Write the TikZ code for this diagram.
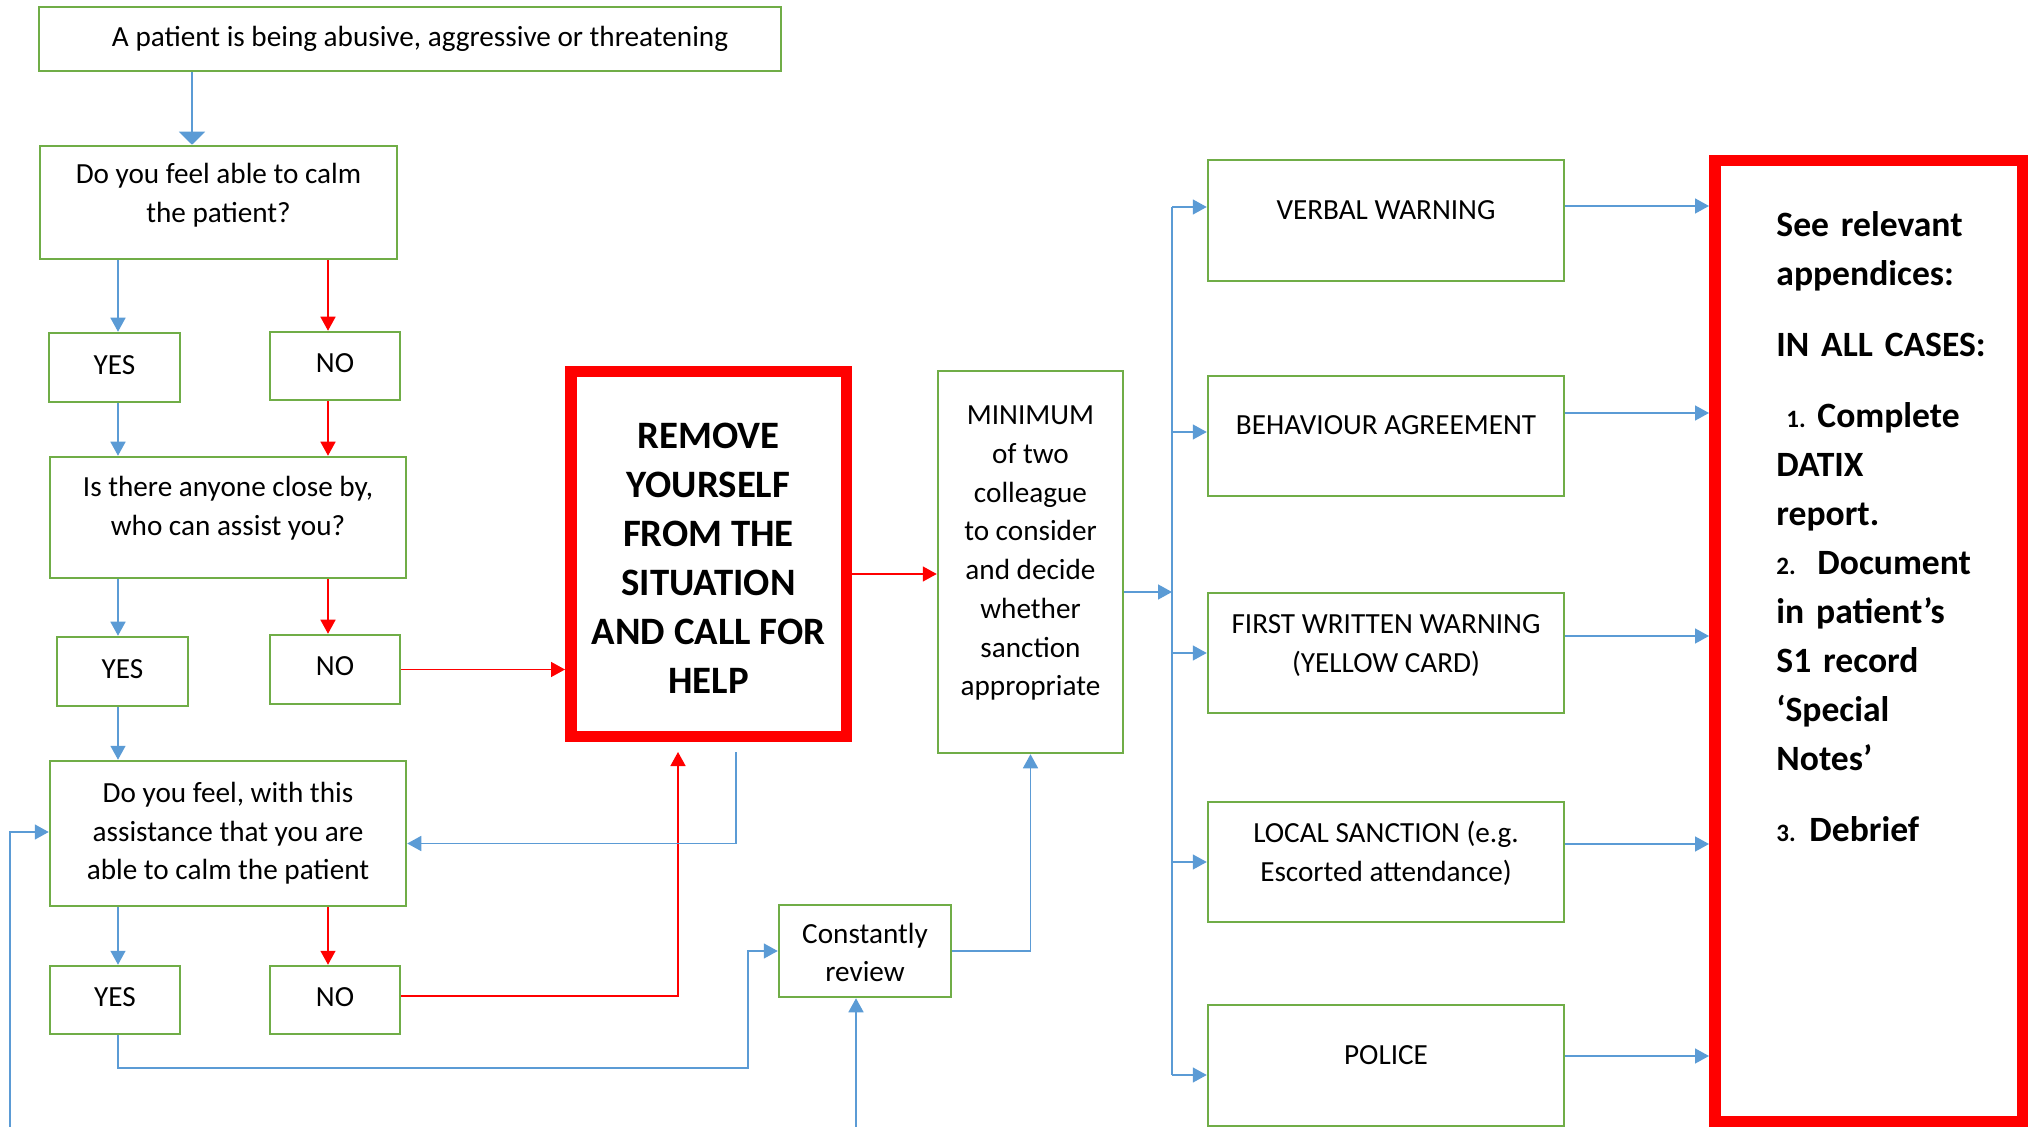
\documentclass[tikz,border=0pt]{standalone}
\usepackage{fontspec}
\setmainfont{Carlito}
\usetikzlibrary{arrows.meta}
\definecolor{boxgreen}{RGB}{112,173,71}
\definecolor{lineblue}{RGB}{91,155,213}
\definecolor{alertred}{RGB}{255,0,0}
\newcommand{\numsz}{\fontsize{12.5}{12.5}\selectfont}

\begin{document}
\begin{tikzpicture}[x=0.5pt,y=-0.5pt,
  gbox/.style={draw=boxgreen, line width=1.25pt, align=center, inner sep=0pt,
    font=\fontsize{14.6}{19.35}\selectfont},
  rbox/.style={draw=alertred, line width=5.75pt, inner sep=0pt},
  txt/.style={align=center, inner sep=0pt, font=\fontsize{14.6}{19.35}\selectfont},
  bline/.style={draw=lineblue, line width=0.75pt},
  barrow/.style={bline, -{Triangle[width=7.5pt,length=7pt]}},
  rline/.style={draw=alertred, line width=0.75pt},
  rarrow/.style={rline, -{Triangle[width=7.5pt,length=7pt]}}]
\useasboundingbox (0,0) rectangle (2028,1127);

% lanes for the yes / no arrows
\coordinate (laneS) at (192,0);
\coordinate (laneY) at (118,0);
\coordinate (laneN) at (328,0);

% left column
\node[gbox, minimum width=371pt, minimum height=32pt] (start) at (410,39) {};
\node[txt] (start-text) at ([xshift=5pt]start.center) {A patient is being abusive, aggressive or threatening};
\node[gbox, minimum width=178.5pt, minimum height=56.5pt] (q1) at (218.5,202.5) {};
\node[txt] (q1-text) at ([yshift=3.5pt]q1.center) {Do you feel able to calm\\the patient?};
\node[gbox, minimum width=65.5pt, minimum height=34.5pt] (yes1) at (114.5,367.5) {};
\node[txt] (yes1-text) at ([yshift=1pt]yes1.center) {YES};
\node[gbox, minimum width=65pt, minimum height=34pt] (no1) at (335,366) {};
\node[txt] (no1-text) at ([yshift=1.5pt]no1.center) {NO};
\node[gbox, minimum width=178pt, minimum height=60.5pt] (q2) at (228,517.5) {};
\node[txt] (q2-text) at ([yshift=4.75pt]q2.center) {Is there anyone close by,\\who can assist you?};
\node[gbox, minimum width=65.5pt, minimum height=34.5pt] (yes2) at (122.5,671.5) {};
\node[txt] (yes2-text) at ([yshift=1pt]yes2.center) {YES};
\node[gbox, minimum width=65pt, minimum height=34.5pt] (no2) at (335,669.5) {};
\node[txt] (no2-text) at ([yshift=1.5pt]no2.center) {NO};
\node[gbox, minimum width=178pt, minimum height=72.5pt] (q3) at (228,833.5) {Do you feel, with this\\assistance that you are\\able to calm the patient};
\node[gbox, minimum width=65pt, minimum height=34pt] (yes3) at (115,1000) {};
\node[txt] (yes3-text) at ([yshift=1.5pt]yes3.center) {YES};
\node[gbox, minimum width=65pt, minimum height=34pt] (no3) at (335,1000) {};
\node[txt] (no3-text) at ([yshift=1.5pt]no3.center) {NO};

% middle
\node[rbox, minimum width=137.75pt, minimum height=182.25pt] (remove) at (708.5,554) {};
\node[align=center, inner sep=0pt, font=\fontsize{19.4}{24.5}\selectfont\bfseries]
  (remove-text) at ([yshift=-2pt]remove.center)
  {REMOVE\\YOURSELF\\FROM THE\\SITUATION\\AND CALL FOR\\HELP};
\node[gbox, minimum width=92.5pt, minimum height=191pt] (min) at (1030.5,562) {};
\node[txt] (min-text) at ([yshift=4.35pt]min.center) {MINIMUM\\of two\\colleague\\to consider\\and decide\\whether\\sanction\\appropriate};
\node[gbox, minimum width=86pt, minimum height=46pt] (cr) at (865,951) {};
\node[txt] (cr-text) at ([yshift=-0.75pt]cr.center) {Constantly\\review};

% sanctions
\node[gbox, minimum width=178pt, minimum height=60.5pt] (verbal) at (1386,220.5) {};
\node[txt] (verbal-text) at ([yshift=5.25pt]verbal.center) {VERBAL WARNING};
\node[gbox, minimum width=178pt, minimum height=60pt] (behav) at (1386,436) {};
\node[txt] (behav-text) at ([yshift=5.5pt]behav.center) {BEHAVIOUR AGREEMENT};
\node[gbox, minimum width=178pt, minimum height=60pt] (first) at (1386,653) {};
\node[txt] (first-text) at ([yshift=3.75pt]first.center) {FIRST WRITTEN WARNING\\(YELLOW CARD)};
\node[gbox, minimum width=178pt, minimum height=60pt] (local) at (1386,862) {};
\node[txt] (local-text) at ([yshift=4.25pt]local.center) {LOCAL SANCTION (e.g.\\Escorted attendance)};
\node[gbox, minimum width=178pt, minimum height=60.5pt] (police) at (1386,1065.5) {};
\node[txt] (police-text) at ([yshift=5.25pt]police.center) {POLICE};

% appendices
\node[rbox, minimum width=153.75pt, minimum height=480.25pt] (appx) at (1868.5,641) {};
\node[anchor=base west, inner sep=0pt, text width=125pt, align=left,
  font=\fontsize{17.8}{24.5}\selectfont\bfseries] (appx-text) at (1776,237)
  {See relevant\\
   appendices:\\[11pt]
   IN ALL CASES:\\[11pt]
   \makebox[20.5pt][l]{\hspace*{5pt}\numsz 1.}Complete\\
   DATIX\\
   report.\\
   \makebox[20.5pt][l]{\numsz 2.}Document\\
   in patient’s\\
   S1 record\\
   ‘Special\\
   Notes’\\[11pt]
   \makebox[16.5pt][l]{\numsz 3.}Debrief};

% connectors, left column
\draw[bline, -{Triangle[width=13pt,length=6.5pt]}] (start.south -| laneS) -- (q1.north -| laneS);
\draw[barrow] (q1.south -| laneY) -- (yes1.north -| laneY);
\draw[rarrow] (q1.south -| laneN) -- (no1.north -| laneN);
\draw[barrow] (yes1.south -| laneY) -- (q2.north -| laneY);
\draw[rarrow] (no1.south -| laneN) -- (q2.north -| laneN);
\draw[barrow] (q2.south -| laneY) -- (yes2.north -| laneY);
\draw[rarrow] (q2.south -| laneN) -- (no2.north -| laneN);
\draw[barrow] (yes2.south -| laneY) -- (q3.north -| laneY);
\draw[rarrow] (no2.east) -- (no2.east -| remove.west);
\draw[barrow] (q3.south -| laneY) -- (yes3.north -| laneY);
\draw[rarrow] (q3.south -| laneN) -- (no3.north -| laneN);

% loops back and round
\coordinate (redup) at (678,752);
\coordinate (backdown) at (736,752);
\coordinate (loopfoot) at (10,1127);
\coordinate (yesturn) at (748,1068);
\coordinate (crfoot) at (856,1127);
\draw[rarrow] ([yshift=2pt]no3.east) -| (redup);
\draw[barrow] (backdown) |- ([yshift=-5pt]q3.east);
\draw[barrow] (loopfoot) |- ([yshift=0.75pt]q3.west);
\draw[barrow] (yes3.south -| laneY) |- (yesturn) |- (cr.west);
\draw[barrow] (cr.east) -| (min.south);
\draw[barrow] (crfoot) -- (crfoot |- cr.south);
\draw[rarrow] ([yshift=-10pt]remove.east) -- ([yshift=-10pt]remove.east -| min.west);

% sanction bus
\coordinate (bus-top) at (1172,207);
\coordinate (bus-foot) at (1172,1075);
\draw[bline] (bus-top) -- (bus-foot);
\draw[barrow] ([yshift=-15pt]min.east) -- ([yshift=-15pt]min.east -| bus-top);
\draw[barrow] (bus-top) -- (bus-top -| verbal.west);
\draw[barrow] ([yshift=2pt]bus-top |- behav.west) -- ([yshift=2pt]behav.west);
\draw[barrow] (bus-top |- first.west) -- (first.west);
\draw[barrow] (bus-top |- local.west) -- (local.west);
\draw[barrow] (bus-foot) -- (bus-foot -| police.west);
\foreach \sname/\dy in {verbal/7.25,behav/11.5,first/8.5,local/9,police/4.75}
  \draw[barrow] ([yshift=\dy pt]\sname.east) -- ([yshift=\dy pt]\sname.east -| appx.west);
\end{tikzpicture}
\end{document}
